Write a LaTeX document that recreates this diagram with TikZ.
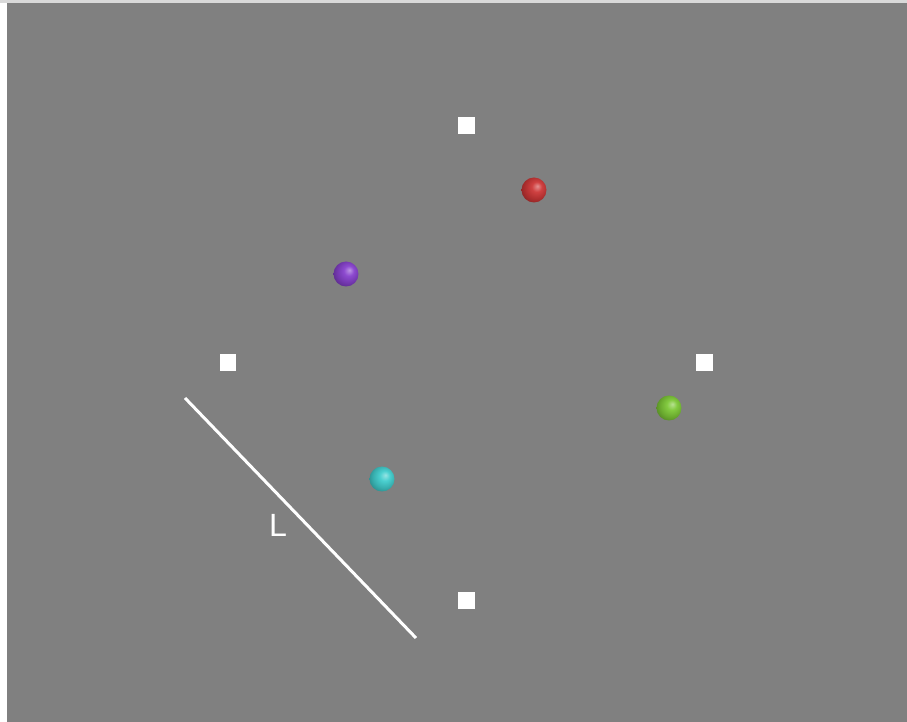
\documentclass[tikz,border=0pt]{standalone}
\usepackage{fontspec}
\setmainfont{Liberation Sans}
\usetikzlibrary{positioning}

% colours of the balls
\definecolor{redball}{RGB}{205,55,55}
\definecolor{purpleball}{RGB}{135,65,205}
\definecolor{greenball}{RGB}{125,200,55}
\definecolor{cyanball}{RGB}{65,205,205}
\definecolor{canvasgray}{RGB}{128,128,128}
\colorlet{ballcol}{red}

% sphere shading, highlight up and to the right
\pgfdeclareradialshading[ballcol]{orb}{\pgfqpoint{7bp}{8bp}}{%
  color(0bp)=(ballcol!55!white);
  color(10bp)=(ballcol!95!white);
  color(22bp)=(ballcol!85!black);
  color(30bp)=(ballcol!70!black);
  color(50bp)=(ballcol!60!black)}

\begin{document}
\begin{tikzpicture}[
    x=0.02cm, y=-0.02cm,
    % shaded ball
    ball/.style={circle, minimum size=0.5cm, inner sep=0pt,
                 orbcol=#1, shading=orb},
    orbcol/.code={\colorlet{ballcol}{#1}},
    % white square marker
    marker/.style={rectangle, fill=white, minimum size=0.34cm, inner sep=0pt},
    % white line
    wline/.style={white, line width=0.06cm},
    every node/.style={font=\fontsize{18.3}{20}\selectfont},
]

% --- background ---
\useasboundingbox (0,0) rectangle (907,722);
\fill[white] (0,0) rectangle (907,722);
\fill[gray!30] (0,0) rectangle (907,3);
\fill[canvasgray] (7,3) rectangle (907,722);

% --- square markers ---
\node[marker] (top) at (466,126) {};
\node[marker] (left) at (228,363) {};
\node[marker] (right) at (704,363) {};
\node[marker] (bottom) at (466,601) {};

% --- balls ---
\node[ball=redball] (red) at (534,190) {};
\node[ball=purpleball] (purple) at (346,274) {};
\node[ball=greenball] (green) at (669,408) {};
\node[ball=cyanball] (cyan) at (382,479) {};

% --- line L ---
\coordinate (lstart) at (185,398);
\coordinate (lend) at (416,638);
\draw[wline] (lstart) -- (lend);
\node[white, inner sep=0pt] (llabel) at (278,525) {L};

\end{tikzpicture}
\end{document}
